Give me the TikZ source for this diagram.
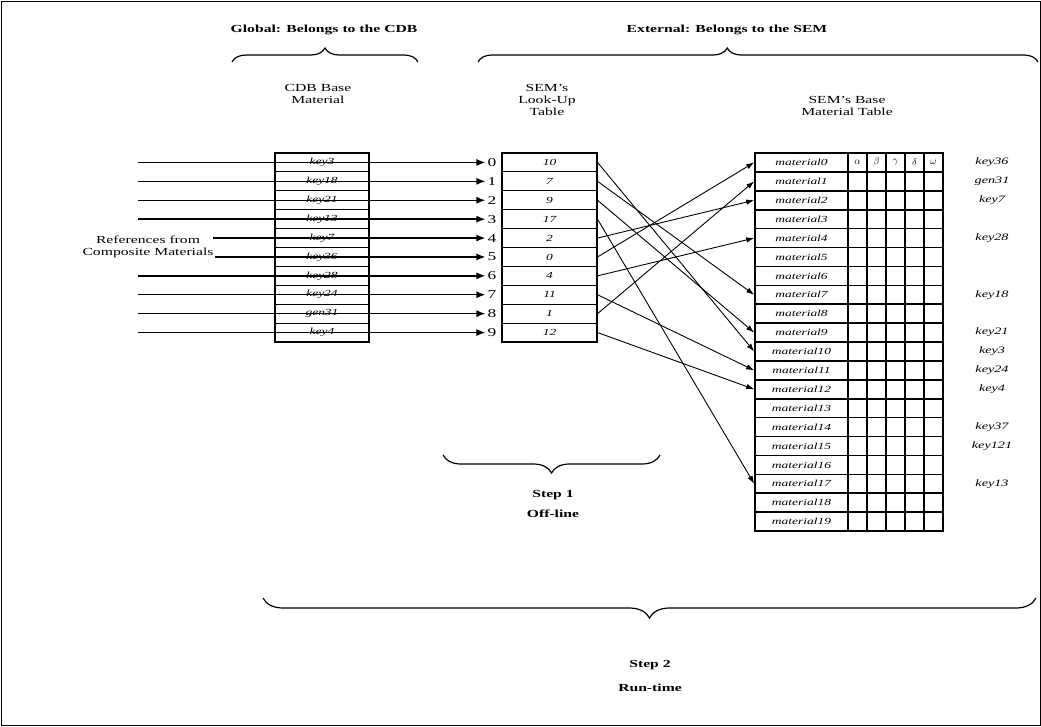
\documentclass[tikz,border=0pt]{standalone}
\usepackage{fontspec}
\setmainfont[FakeStretch=1.45]{Liberation Serif}
\usetikzlibrary{arrows.meta,decorations.pathreplacing}

\tikzset{
  cdbcell/.style={draw, line width=1.1pt, minimum width=94pt, minimum height=18.9pt, inner sep=0pt, font=\fontsize{9.3}{10}\selectfont\itshape},
  lucell/.style={cdbcell, minimum width=95pt},
  matcell/.style={cdbcell, line width=1.6pt, minimum width=93pt},
  propcell/.style={draw, line width=1.6pt, minimum width=19pt, minimum height=18.9pt, inner sep=0pt},
  lbl/.style={font=\fontsize{10.8}{12}\selectfont, align=center},
  ttl/.style={font=\fontsize{10.8}{12}\selectfont\bfseries, align=center},
  idxlbl/.style={font=\fontsize{12}{12}\selectfont, inner sep=2pt},
  keylbl/.style={font=\fontsize{9.8}{11}\selectfont\itshape},
  inarrow/.style={line width=1.4pt, -{Latex[length=9pt,width=7pt]}},
  maparrow/.style={line width=0.9pt, -{Latex[length=8pt,width=5.5pt]}},
  grp/.style={decorate, decoration={brace, amplitude=#1}, line width=1.2pt},
}

\begin{document}
\begin{tikzpicture}[x=1pt, y=-1pt]
\useasboundingbox (0,0) rectangle (1041,726);
\draw[line width=1pt] (1,1) rectangle (1040,725);

\coordinate (g1) at (232,62);
\coordinate (g2) at (418,62);
\coordinate (e1) at (478,62);
\coordinate (e2) at (1038,62);
\coordinate (s1a) at (443,455);
\coordinate (s1b) at (660,455);
\coordinate (s2a) at (263,598);
\coordinate (s2b) at (1036,598);

% headings
\node[ttl] (gtitle) at (324,30) {Global: Belongs to the CDB};
\node[ttl] (etitle) at (727,30) {External: Belongs to the SEM};
\draw[grp=14pt] (g1) -- (g2);
\draw[grp=14pt, decoration={aspect=0.445}] (e1) -- (e2);
\node[lbl] (cdbhead) at (318,94) {CDB Base\\Material};
\node[lbl] (luhead) at (547,100) {SEM's\\Look-Up\\Table};
\node[lbl] (mathead) at (847,106) {SEM's Base\\Material Table};
\node[lbl] (refs) at (148,247) {References from\\Composite Materials};

% references into the look-up table
\foreach \i/\s in {0/138,1/138,2/138,3/138,4/213,5/215,6/138,7/138,8/138,9/138} {
  \node[idxlbl] (idx\i) at (492,{153+18.9*(\i+0.5)}) {\i};
  \coordinate (src\i) at (\s,{153+18.9*(\i+0.5)});
  \draw[inarrow] (src\i) -- (idx\i.west);
}

% CDB base material
\foreach \k [count=\i from 0] in {key3,key18,key21,key13,key7,key36,key28,key24,gen31,key4}
  \node[cdbcell] (cdb\i) at (322,{153+18.9*(\i+0.5)}) {\k};

% look-up table
\foreach \v [count=\i from 0] in {10,7,9,17,2,0,4,11,1,12}
  \node[lucell] (lu\i) at (549.5,{153+18.9*(\i+0.5)}) {\v};

% base material table
\foreach \i in {0,...,19} {
  \node[matcell] (mat\i) at (801.5,{153+18.9*(\i+0.5)}) {material\i};
  \foreach \c in {1,...,5}
    \node[propcell] (p\i-\c) at ({838.5+19*\c},{153+18.9*(\i+0.5)}) {};
}
\foreach \g [count=\c] in {\alpha,\beta,\gamma,\delta,\omega}
  \node[font=\fontsize{10}{10}\selectfont] (gk\c) at (p0-\c) {$\g$};

\foreach \r/\k in {0/key36,1/gen31,2/key7,4/key28,7/key18,9/key21,10/key3,11/key24,12/key4,14/key37,15/key121,17/key13}
  \node[keylbl] (rk\r) at (992,{153+18.9*(\r+0.5)}) {\k};

% look-up
\foreach \i/\v in {0/10,1/7,2/9,3/17,4/2,5/0,6/4,7/11,8/1,9/12}
  \draw[maparrow] (lu\i.east) -- (mat\v.west);

% steps
\draw[grp=18pt, decoration={mirror}] (s1a) -- (s1b);
\node[ttl] (step1) at (553,495) {Step 1};
\node[ttl] (offline) at (553,514) {Off-line};
\draw[grp=20pt, decoration={mirror}] (s2a) -- (s2b);
\node[ttl] (step2) at (650,665) {Step 2};
\node[ttl] (runtime) at (650,688) {Run-time};
\end{tikzpicture}
\end{document}
